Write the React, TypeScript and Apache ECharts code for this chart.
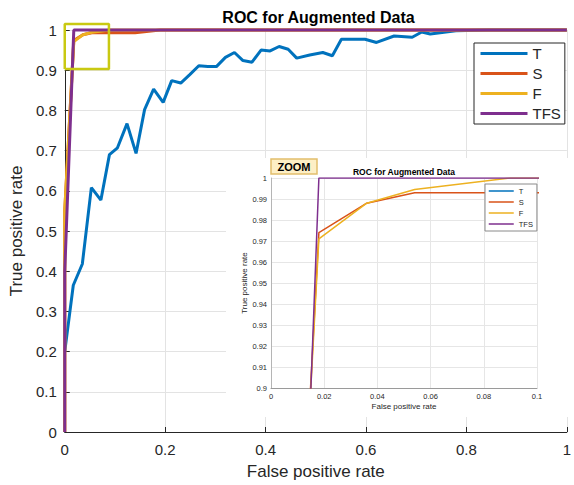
import React, { useEffect, useRef } from "react";
import * as echarts from "echarts";

const seriesNames = ["T", "S", "F", "TFS"];
const seriesColors = ["#0072BD", "#D95319", "#EDB120", "#7E2F8E"];

const tFpr = [0, 0.017, 0.035, 0.053, 0.072, 0.089, 0.105, 0.124, 0.142, 0.159, 0.177, 0.196, 0.213, 0.231, 0.249, 0.267, 0.285, 0.302, 0.32, 0.338, 0.355, 0.373, 0.391, 0.409, 0.427, 0.445, 0.462, 0.488, 0.514, 0.533, 0.551, 0.598, 0.621, 0.656, 0.692, 0.711, 0.728, 0.779, 0.844, 1];
const tTpr = [0.2, 0.365, 0.418, 0.608, 0.577, 0.69, 0.707, 0.767, 0.693, 0.802, 0.853, 0.82, 0.874, 0.868, 0.889, 0.911, 0.909, 0.909, 0.932, 0.944, 0.924, 0.92, 0.95, 0.948, 0.959, 0.952, 0.93, 0.938, 0.944, 0.936, 0.977, 0.977, 0.969, 0.985, 0.982, 0.995, 0.99, 0.998, 1, 1];

const sFpr = [0, 0, 0.018, 0.036, 0.054, 0.14, 0.19, 1];
const sTpr = [0, 0.55, 0.974, 0.988, 0.993, 0.993, 1, 1];

const fFpr = [0, 0, 0.018, 0.036, 0.054, 0.09, 1];
const fTpr = [0, 0.55, 0.971, 0.988, 0.9945, 1, 1];

const tfsFpr = [0, 0, 0.018, 1];
const tfsTpr = [0, 0.4, 1, 1];

const zoomBoxX = [0, 0.088, 0.088, 0, 0];
const zoomBoxY = [0.903, 0.903, 1.015, 1.015, 0.903];

const mainXTicks = { min: 0, max: 1, interval: 0.2 };
const mainYTicks = { min: 0, max: 1, interval: 0.1 };
const insetXTicks = { min: 0, max: 0.1, interval: 0.02 };
const insetYTicks = { min: 0.9, max: 1, interval: 0.01 };

const titleText = "ROC for Augmented Data";
const xName = "False positive rate";
const yName = "True positive rate";

const FONT = "'Liberation Sans', Arial, Helvetica, sans-serif";
const TXT = "#262626";

function pairs(xs: number[], ys: number[]) {
  return xs.map((x, i) => [x, ys[i]]);
}

export default function App() {
  const ref = useRef<HTMLDivElement>(null);
  useEffect(() => {
    const chart = echarts.init(ref.current!, null, { renderer: "svg" });
    const allData = [pairs(tFpr, tTpr), pairs(sFpr, sTpr), pairs(fFpr, fTpr), pairs(tfsFpr, tfsTpr)];

    const mainSeries = allData.map((d, i) => ({
      name: seriesNames[i],
      type: "line",
      xAxisIndex: 0,
      yAxisIndex: 0,
      data: d,
      showSymbol: false,
      symbol: "none",
      clip: false,
      color: seriesColors[i],
      lineStyle: { color: seriesColors[i], width: 3 },
      z: 2,
    }));
    const insetSeries = allData.map((d, i) => ({
      name: seriesNames[i],
      type: "line",
      xAxisIndex: 1,
      yAxisIndex: 1,
      data: d,
      showSymbol: false,
      symbol: "none",
      clip: true,
      color: seriesColors[i],
      lineStyle: { color: seriesColors[i], width: 1.5 },
      z: 3,
    }));

    const option: any = {
      animation: false,
      textStyle: { fontFamily: FONT },
      grid: [
        { left: 62, top: 30, width: 513, height: 404 },
        { left: 271, top: 178, width: 266, height: 210 },
      ],
      xAxis: [
        {
          gridIndex: 0,
          type: "value",
          ...mainXTicks,
          name: xName,
          nameLocation: "middle",
          nameGap: 31,
          nameTextStyle: { fontSize: 17, color: TXT, fontFamily: FONT },
          axisLine: { show: true, onZero: false, lineStyle: { color: TXT, width: 1 } },
          axisTick: { show: true, inside: true, length: 5, lineStyle: { color: TXT } },
          axisLabel: { fontSize: 15, color: TXT, margin: 10, fontFamily: FONT },
          splitLine: { show: true, lineStyle: { color: "#e3e3e3", width: 1 } },
          z: 0,
        },
        {
          gridIndex: 1,
          type: "value",
          ...insetXTicks,
          name: xName,
          nameLocation: "middle",
          nameGap: 14,
          nameTextStyle: { fontSize: 8, color: TXT, fontFamily: FONT },
          axisLine: { show: true, onZero: false, lineStyle: { color: "#9a9a9a", width: 1 } },
          axisTick: { show: false },
          axisLabel: { fontSize: 7.5, color: TXT, margin: 4, fontFamily: FONT },
          splitLine: { show: true, lineStyle: { color: "#e6e6e6", width: 1 } },
          z: 2,
        },
      ],
      yAxis: [
        {
          gridIndex: 0,
          type: "value",
          ...mainYTicks,
          name: yName,
          nameLocation: "middle",
          nameGap: 30,
          nameTextStyle: { fontSize: 17, color: TXT, fontFamily: FONT },
          axisLine: { show: true, onZero: false, lineStyle: { color: TXT, width: 1 } },
          axisTick: { show: true, inside: true, length: 5, lineStyle: { color: TXT } },
          axisLabel: { fontSize: 15, color: TXT, margin: 8, fontFamily: FONT },
          splitLine: { show: true, lineStyle: { color: "#e3e3e3", width: 1 } },
          z: 0,
        },
        {
          gridIndex: 1,
          type: "value",
          ...insetYTicks,
          name: yName,
          nameLocation: "middle",
          nameGap: 22,
          nameTextStyle: { fontSize: 8, color: TXT, fontFamily: FONT },
          axisLine: { show: true, onZero: false, lineStyle: { color: "#b5b5b5", width: 1 } },
          axisTick: { show: false },
          axisLabel: { fontSize: 7.5, color: TXT, margin: 4, fontFamily: FONT },
          splitLine: { show: true, lineStyle: { color: "#e6e6e6", width: 1 } },
          z: 2,
        },
      ],
      legend: [
        {
          data: seriesNames,
          orient: "vertical",
          left: 474,
          top: 43,
          itemWidth: 47,
          itemHeight: 10,
          itemGap: 5,
          padding: [3, 4, 3, 5],
          borderColor: TXT,
          borderWidth: 1,
          backgroundColor: "#fff",
          textStyle: { fontSize: 15, color: TXT, fontFamily: FONT },
          lineStyle: { width: 3 },
          itemStyle: { opacity: 0 },
          selectedMode: false,
        },
        {
          data: seriesNames,
          orient: "vertical",
          left: 485,
          top: 184,
          itemWidth: 25,
          itemHeight: 7,
          itemGap: 3,
          padding: [3, 4, 3, 3],
          borderColor: "#8a8a8a",
          borderWidth: 1,
          backgroundColor: "#fff",
          textStyle: { fontSize: 7.5, color: TXT, fontFamily: FONT },
          lineStyle: { width: 1.5 },
          itemStyle: { opacity: 0 },
          selectedMode: false,
          z: 6,
        },
      ],
      graphic: [
        {
          type: "rect",
          silent: true,
          z: 1,
          shape: { x: 226, y: 158, width: 350, height: 259 },
          style: { fill: "#ffffff" },
        },
        {
          type: "rect",
          silent: true,
          z: 10,
          shape: { x: 271, y: 159, width: 46, height: 15 },
          style: { fill: "#fdefc6", stroke: "#e2bf6c", lineWidth: 1.5 },
        },
        {
          type: "text",
          silent: true,
          z: 11,
          x: 294,
          y: 166.5,
          style: { text: "ZOOM", fontSize: 11, fontWeight: "bold", fill: "#000", fontFamily: FONT, align: "center", verticalAlign: "middle" },
        },
        {
          type: "text",
          silent: true,
          z: 11,
          x: 318.5,
          y: 17,
          style: { text: titleText, fontSize: 16, fontWeight: "bold", fill: "#000", fontFamily: FONT, align: "center", verticalAlign: "middle" },
        },
        {
          type: "text",
          silent: true,
          z: 11,
          x: 404,
          y: 172,
          style: { text: titleText, fontSize: 8.5, fontWeight: "bold", fill: "#000", fontFamily: FONT, align: "center", verticalAlign: "middle" },
        },
      ],
      series: [
        ...mainSeries,
        ...insetSeries,
        {
          name: "zoomBox",
          type: "line",
          xAxisIndex: 0,
          yAxisIndex: 0,
          data: pairs(zoomBoxX, zoomBoxY),
          showSymbol: false,
          symbol: "none",
          clip: false,
          silent: true,
          lineStyle: { color: "#c9c912", width: 2.5 },
          z: 5,
        },
      ],
    };
    chart.setOption(option);
    return () => chart.dispose();
  }, []);
  return <div ref={ref} style={{ position: "absolute", left: 0, top: 0, width: 574, height: 485 }} />;
}
